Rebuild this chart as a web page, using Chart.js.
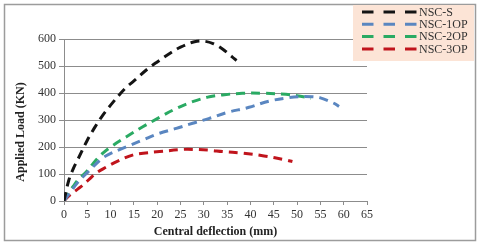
<!DOCTYPE html>
<html>
<head>
<meta charset="utf-8">
<script src="https://cdn.jsdelivr.net/npm/chart.js@4.4.1/dist/chart.umd.min.js"></script>
<style>
  html, body { margin: 0; padding: 0; background: #fff; }
  #wrap { position: relative; width: 480px; height: 245px; }
</style>
</head>
<body>
<div id="wrap"><canvas id="c" width="480" height="245"></canvas></div>
<script>
// === Duomenys ===
const seriesNames = ['NSC-S', 'NSC-1OP', 'NSC-2OP', 'NSC-3OP'];
const seriesColors = ['#141414', '#5a86c0', '#2aaa63', '#c0141c'];

const nscSDefl = [0, 1, 2, 3, 5, 6.5, 8, 10, 13, 15, 18, 20, 23, 25, 28, 30, 32, 34, 36, 37];
const nscSLoad = [0, 75, 120, 155, 225, 270, 310, 355, 415, 445, 490, 515, 550, 570, 590, 592, 583, 563, 535, 520];

const nsc1Defl = [0, 3, 5, 8, 9.5, 13.4, 16.9, 20.5, 24.1, 27.6, 31.2, 34.8, 39.7, 44, 48.3, 51, 53.3, 55, 57.9, 59];
const nsc1Load = [0, 70, 105, 155, 172, 201, 226, 251, 269, 288, 306, 327, 347, 370, 383, 387, 386, 382, 362, 350];

const nsc2Defl = [0, 1, 2, 3, 5, 6.3, 8, 10, 13.4, 16.9, 20.5, 24.1, 27.6, 31.2, 34, 38.3, 42.9, 47.6, 50, 52.2, 53];
const nsc2Load = [0, 30, 55, 78, 112, 140, 172, 200, 238, 275, 310, 343, 368, 386, 393, 399, 399, 395, 390, 383, 380];

const nsc3Defl = [0, 1, 3, 4, 5.5, 7, 9, 11.3, 14.7, 17, 20.5, 25.5, 28, 31.2, 34, 38.3, 42.9, 47.6, 49];
const nsc3Load = [0, 18, 45, 58, 82, 105, 125, 146, 170, 177, 183, 191, 191, 188, 183, 177, 167, 152, 146];

const xTicksMax = 65, xStep = 5;
const yTicksMax = 600, yStep = 100;

const deflections = [nscSDefl, nsc1Defl, nsc2Defl, nsc3Defl];
const loads = [nscSLoad, nsc1Load, nsc2Load, nsc3Load];

const gridGray = '#8c8c8c';
const serif = "'Liberation Serif', 'Times New Roman', serif";

// rėmelis aplink visą paveikslą
const framePlugin = {
    id: 'frame',
    beforeDraw(chart) {
        const ctx = chart.ctx;
        ctx.save();
        ctx.fillStyle = '#fff';
        ctx.fillRect(0, 0, chart.width, chart.height);
        ctx.strokeStyle = '#9c9c9c';
        ctx.lineWidth = 1.5;
        ctx.strokeRect(4.5, 4.5, 471, 236);
        ctx.restore();
    }
};

// legenda su persikine spalva viršuje dešinėje
const legendBox = {
    id: 'legendBox',
    afterDraw(chart) {
        const ctx = chart.ctx;
        ctx.save();
        ctx.fillStyle = '#fce4d6';
        ctx.fillRect(353, 5, 121, 56);
        chart.data.datasets.forEach((ds, i) => {
            const y = 12 + i * 12.3;
            ctx.strokeStyle = ds.borderColor;
            ctx.lineWidth = 3;
            ctx.setLineDash([11.5, 10]);
            ctx.beginPath();
            ctx.moveTo(362, y);
            ctx.lineTo(417, y);
            ctx.stroke();
            ctx.setLineDash([]);
            ctx.fillStyle = '#333';
            ctx.font = '12px ' + serif;
            ctx.textBaseline = 'middle';
            ctx.fillText(ds.label, 419, y + 0.5);
        });
        ctx.restore();
    }
};

const datasets = seriesNames.map((name, i) => ({
    label: name,
    data: deflections[i].map((x, j) => ({ x: x, y: loads[i][j] })),
    borderColor: seriesColors[i],
    borderWidth: 3,
    borderDash: [9, 6],
    pointRadius: 0,
    tension: 0.35,
    fill: false
}));

new Chart(document.getElementById('c'), {
    type: 'line',
    data: { datasets: datasets },
    plugins: [framePlugin, legendBox],
    options: {
        responsive: false,
        animation: false,
        layout: { padding: { left: 10, right: 113, top: 39, bottom: 4 } },
        plugins: {
            legend: { display: false },
            tooltip: { enabled: false }
        },
        scales: {
            x: {
                type: 'linear',
                min: 0,
                max: xTicksMax,
                ticks: { stepSize: xStep, color: '#333', padding: 3, maxRotation: 0, font: { family: serif, size: 12 } },
                grid: { drawOnChartArea: false, drawTicks: true, tickLength: 4, color: gridGray },
                border: { color: gridGray },
                title: {
                    display: true,
                    text: 'Central deflection (mm)',
                    color: '#222',
                    padding: { top: 0, bottom: 2 },
                    font: { family: serif, size: 12, weight: 'bold' }
                },
                afterFit: s => { s.width = s.width; s.height = 40; }
            },
            y: {
                min: 0,
                max: yTicksMax,
                ticks: { stepSize: yStep, color: '#333', padding: 3, font: { family: serif, size: 12 } },
                grid: { color: gridGray, tickLength: 5 },
                border: { color: gridGray },
                title: {
                    display: true,
                    // tarpai gale – kad užrašas būtų žemiau, kaip Excel'yje
                    text: 'Applied Load (KN)\u2002\u2002\u2002\u2002',
                    color: '#222',
                    padding: { top: 4, bottom: 0 },
                    font: { family: serif, size: 12, weight: 'bold' }
                },
                afterFit: s => { s.width = 54; }
            }
        }
    }
});
</script>
</body>
</html>
